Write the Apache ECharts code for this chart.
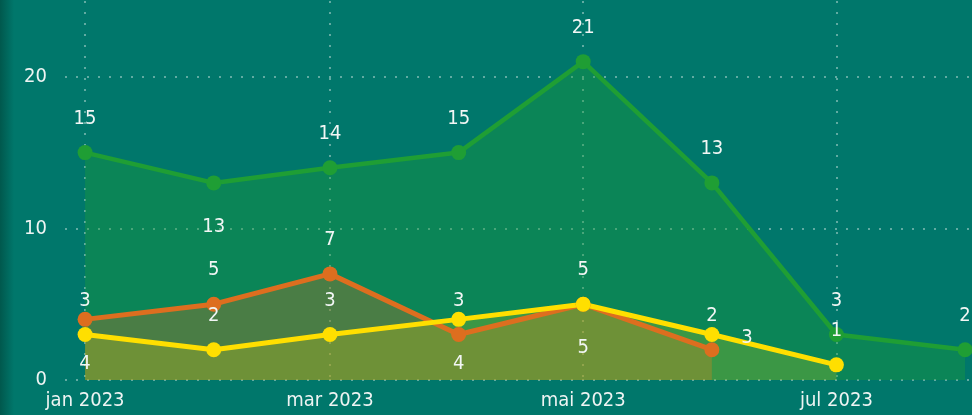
<!DOCTYPE html>
<html>
<head>
<meta charset="utf-8">
<script src="https://cdn.jsdelivr.net/npm/echarts@6/dist/echarts.min.js"></script>
<style>
  html, body { margin: 0; padding: 0; background: #00776b; }
  #chart { width: 972px; height: 415px; }
</style>
</head>
<body>
<div id="chart"></div>
<script>
// dados (mês a mês)
const months = ['2023-01-01', '2023-02-01', '2023-03-01', '2023-04-01', '2023-05-01', '2023-06-01', '2023-07-01', '2023-08-01'];
const greenValues = [15, 13, 14, 15, 21, 13, 3, 2];
const orangeValues = [4, 5, 7, 3, 5, 2];
const yellowValues = [3, 2, 3, 4, 5, 3, 1];
const tickMonths = ['2023-01-01', '2023-03-01', '2023-05-01', '2023-07-01'];
const yTicks = [0, 10, 20];
const monthNames = ['jan', 'fev', 'mar', 'abr', 'mai', 'jun', 'jul', 'ago', 'set', 'out', 'nov', 'dez'];

// onde fica o rótulo de cada ponto
const greenLabelAt = ['top', 'bottom', 'top', 'top', 'top', 'top', 'top', 'top'];
const orangeLabelAt = ['bottom', 'top', 'top', 'top', 'bottom', 'top'];
const yellowLabelAt = ['top', 'top', 'top', 'bottom', 'top', 'right', 'top'];

const FONT = "'Liberation Sans Narrow', 'DejaVu Sans Condensed', sans-serif";
const toTime = s => { const p = s.split('-'); return Date.UTC(+p[0], +p[1] - 1, +p[2]); };
const labelOffsets = { top: [0, -34], bottom: [0, 44], right: [35, 3] };

function buildData(values, where) {
  return values.map((v, i) => ({
    value: [toTime(months[i]), v],
    label: { offset: labelOffsets[where[i]] }
  }));
}

function makeSeries(name, color, values, where, opacity, width) {
  return {
    name: name,
    type: 'line',
    data: buildData(values, where),
    symbol: 'circle',
    symbolSize: 15,
    lineStyle: { color: color, width: width },
    itemStyle: { color: color },
    areaStyle: { color: color, opacity: opacity },
    label: {
      show: true,
      position: 'inside',
      color: '#f2f6f5',
      fontFamily: FONT,
      fontSize: 20,
      formatter: p => p.value[1]
    },
    emphasis: { disabled: true },
    animation: false
  };
}

const chart = echarts.init(document.getElementById('chart'));

const gridLine = { color: 'rgba(215,235,232,0.6)', type: [2, 9], width: 1.5 };

const option = {
  backgroundColor: '#00776b',
  graphic: [{
    type: 'rect',
    left: 0, top: 0,
    shape: { width: 14, height: 415 },
    style: {
      fill: new echarts.graphic.LinearGradient(0, 0, 1, 0, [
        { offset: 0, color: 'rgba(0,50,40,0.45)' },
        { offset: 1, color: 'rgba(0,50,40,0)' }
      ])
    },
    silent: true
  }],
  grid: { left: 65, right: 0, top: 1, bottom: 35 },
  xAxis: {
    type: 'value',
    min: Date.UTC(2022, 11, 27, 4),
    max: Date.UTC(2023, 7, 2, 16),
    axisLine: { show: false },
    axisTick: { show: false, customValues: tickMonths.map(toTime) },
    axisLabel: {
      customValues: tickMonths.map(toTime),
      color: '#eef4f3',
      fontFamily: FONT,
      fontSize: 20,
      margin: 11,
      formatter: v => { const d = new Date(v); return monthNames[d.getUTCMonth()] + ' ' + d.getUTCFullYear(); }
    },
    splitLine: { show: true, lineStyle: gridLine }
  },
  yAxis: {
    type: 'value',
    min: 0,
    max: 25,
    axisLine: { show: false },
    axisTick: { show: false, customValues: yTicks },
    axisLabel: {
      customValues: yTicks,
      color: '#eef4f3',
      fontFamily: FONT,
      fontSize: 20,
      margin: 18
    },
    splitLine: { lineStyle: gridLine }
  },
  series: [
    makeSeries('verde', '#1f9e34', greenValues, greenLabelAt, 0.36, 4.5),
    makeSeries('laranja', '#dd6e1f', orangeValues, orangeLabelAt, 0.3, 5),
    makeSeries('amarelo', '#ffdf00', yellowValues, yellowLabelAt, 0.2, 5)
  ]
};

chart.setOption(option);
</script>
</body>
</html>
